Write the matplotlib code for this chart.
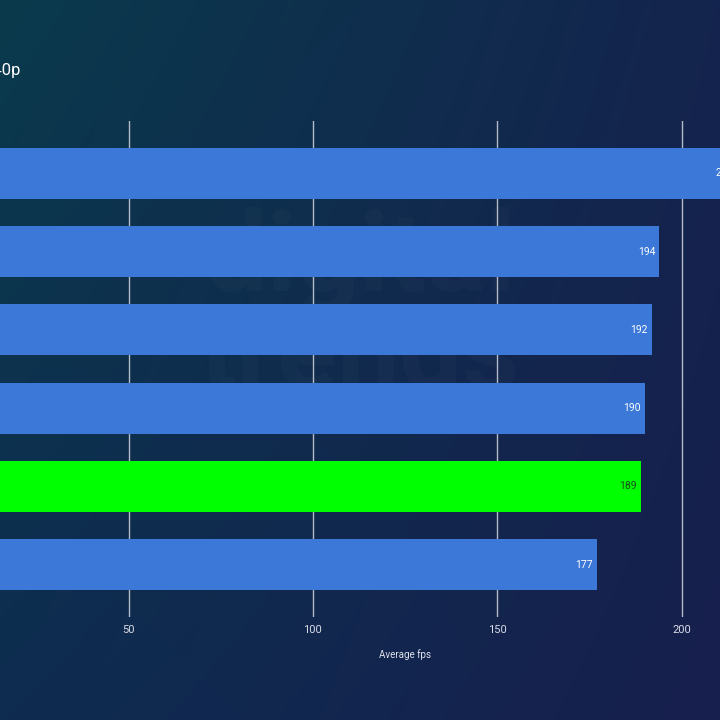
import numpy as np
import matplotlib
matplotlib.use("Agg")
import matplotlib.pyplot as plt

plt.rcParams["font.family"] = ["Roboto", "DejaVu Sans"]

# 数据
values = [215, 194, 192, 190, 189, 177]
bar_colors = ["#3b78d8", "#3b78d8", "#3b78d8", "#3b78d8", "#00ff00", "#3b78d8"]
label_colors = ["white", "white", "white", "white", "#1c4a1c", "white"]
xticks = [50, 100, 150, 200]
title = "1440p"
xlabel = "Average fps"

fig = plt.figure(figsize=(7.2, 7.2), dpi=100)

# 背景渐变 (四角双线性插值)
bg = fig.add_axes([0, 0, 1, 1])
bg.set_axis_off()
yy, xx = np.mgrid[0:1:200j, 0:1:200j]
tl = np.array([10, 58, 76]) / 255.0
tr = np.array([20, 36, 78]) / 255.0
bl = np.array([14, 44, 80]) / 255.0
br = np.array([23, 31, 77]) / 255.0
xx3, yy3 = xx[..., None], yy[..., None]
img = (tl * (1 - xx3) * (1 - yy3) + tr * xx3 * (1 - yy3)
       + bl * (1 - xx3) * yy3 + br * xx3 * yy3)
bg.imshow(img, aspect="auto", extent=[0, 1, 1, 0])
bg.set_xlim(0, 1)
bg.set_ylim(1, 0)

# 水印
bg.text(0.5, 0.43, "digital\ntrends", ha="center", va="center", fontsize=80,
        fontweight="bold", color="white", alpha=0.02, linespacing=0.9)

# 标题 (左侧被裁掉)
fig.text(21 / 720, 1 - 71 / 720, title, ha="right", va="center",
         fontsize=12, color="white")

# 主图
ax = fig.add_axes([-55.7 / 720, 103 / 720, 230 * 3.686 / 720, 496 / 720])
ax.patch.set_alpha(0)
y = np.arange(len(values))
ax.barh(y, values, height=0.65, color=bar_colors, zorder=3)
for i, v in enumerate(values):
    ax.text(v - 1.1, i, str(v), ha="right", va="center", fontsize=7.5,
            color=label_colors[i], zorder=4)

ax.set_xlim(0, 230)
ax.set_ylim(5.67, -0.67)
ax.set_xticks(xticks)
ax.set_yticks([])
ax.grid(axis="x", color="#b4bac6", linewidth=1, zorder=1)
ax.tick_params(axis="x", length=0, colors="#d8dce6", labelsize=8, pad=6)
for s in ax.spines.values():
    s.set_visible(False)
ax.set_xlabel(xlabel, color="#e0e4ec", fontsize=7, labelpad=12)
ax.xaxis.set_label_coords((405 + 55.7) / (230 * 3.686), -0.065)

fig.savefig("out.png", dpi=100)
